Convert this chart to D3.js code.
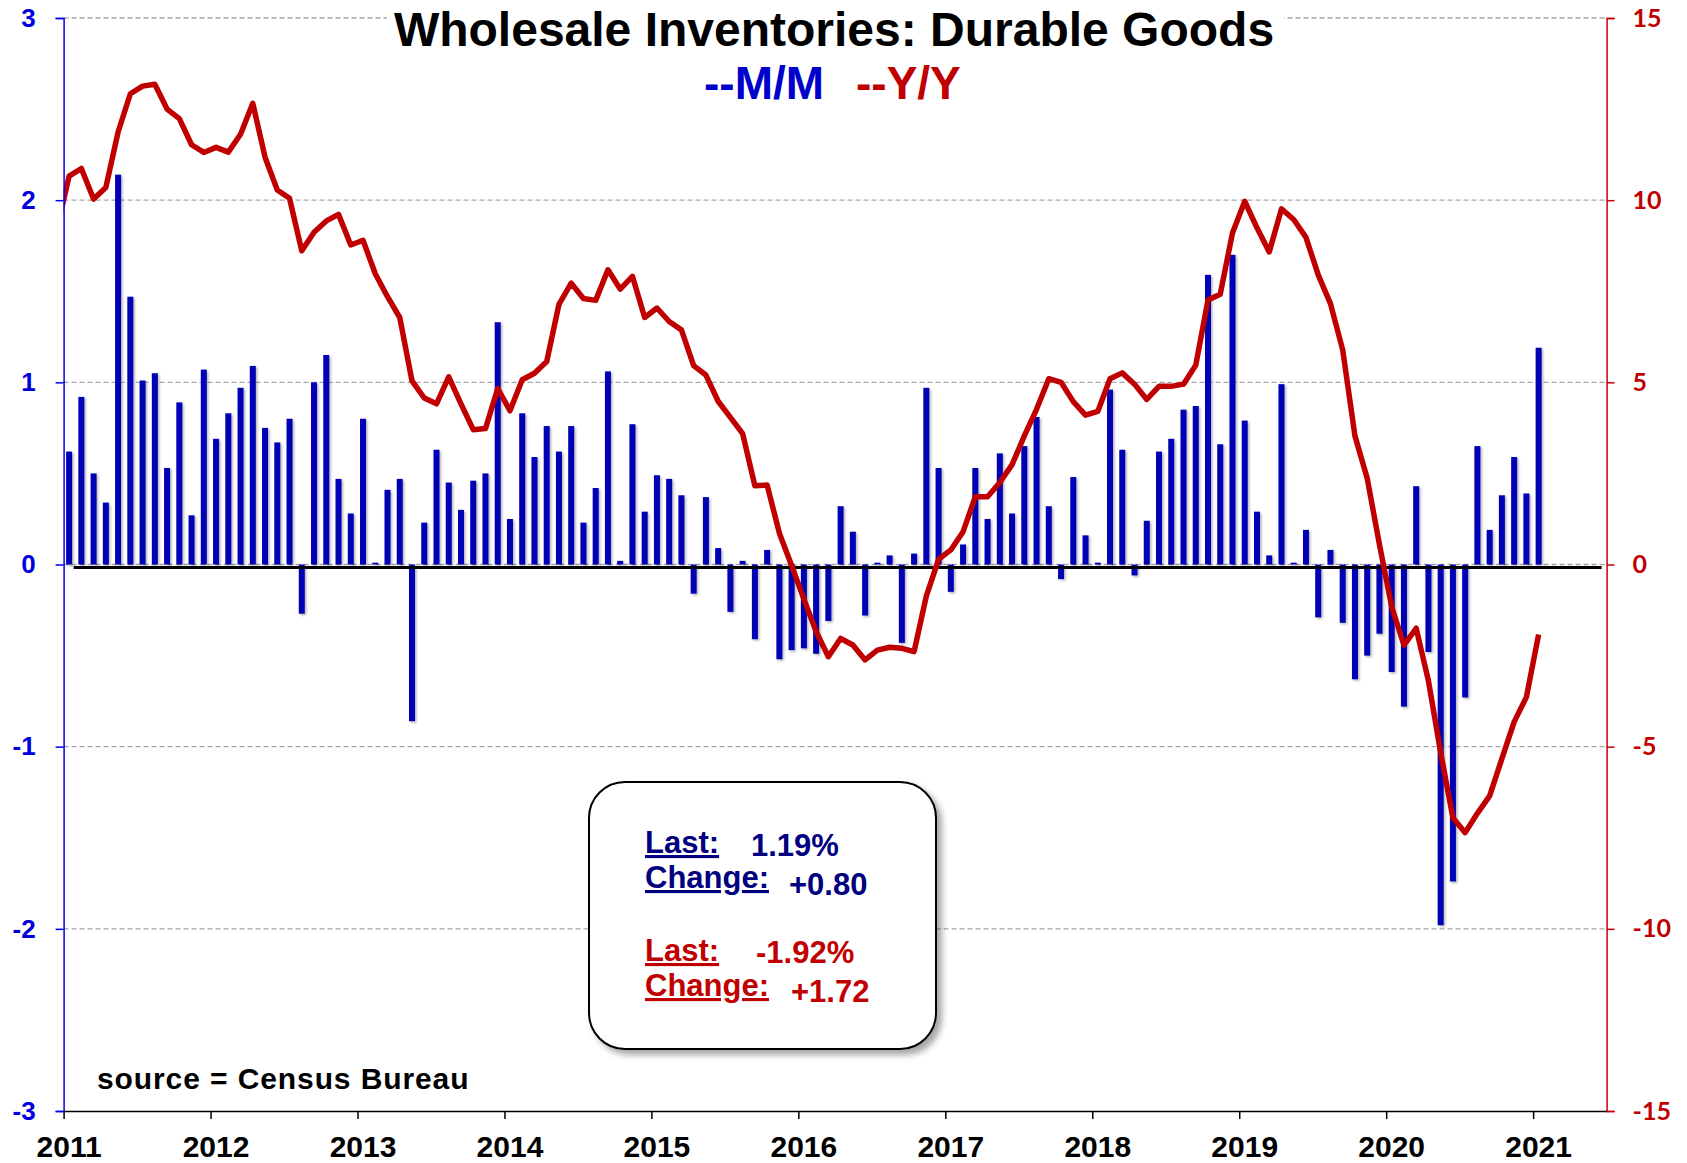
<!DOCTYPE html>
<html>
<head>
<meta charset="utf-8">
<script src="https://cdn.jsdelivr.net/npm/d3@7"></script>
<style>
   body { margin: 0; background: #fff; }
   text { font-family: Arial, "Liberation Sans", sans-serif; font-weight: bold; }
   .title { font-size: 48px; fill: #000; }
   .legendText { font-size: 46px; }
   .leftAxis text { font-size: 26px; fill: #0000dd; }
   .rightAxis text { font-family: Lato, "Open Sans", sans-serif; font-size: 25px; fill: #c00000; }
   .xAxis text { font-size: 30px; fill: #000; }
   .source { font-size: 30px; fill: #000; letter-spacing: 0.9px; }
   .boxText { font-size: 31px; }
</style>
</head>
<body>
<div id="chart"></div>
<script>
const width = 1687;
const height = 1163;

const margin = {
   top: 18,
   right: 80.4,
   bottom: 52,
   left: 63.6
};

// tick labels
const years = [2011, 2012, 2013, 2014, 2015, 2016, 2017, 2018, 2019, 2020, 2021];
const leftTicks = [-3, -2, -1, 0, 1, 2, 3];
const rightTicks = [-15, -10, -5, 0, 5, 10, 15];

// M/M % change, Jan 2011 .. Jan 2021 (bars, left axis)
const mm2011 = [0.62, 0.92, 0.50, 0.34, 2.14, 1.47, 1.01, 1.05, 0.53, 0.89, 0.27, 1.07];
const mm2012 = [0.69, 0.83, 0.97, 1.09, 0.75, 0.67, 0.80, -0.27, 1.00, 1.15, 0.47, 0.28];
const mm2013 = [0.80, 0.01, 0.41, 0.47, -0.86, 0.23, 0.63, 0.45, 0.30, 0.46, 0.50, 1.33];
const mm2014 = [0.25, 0.83, 0.59, 0.76, 0.62, 0.76, 0.23, 0.42, 1.06, 0.02, 0.77, 0.29];
const mm2015 = [0.49, 0.47, 0.38, -0.16, 0.37, 0.09, -0.26, 0.02, -0.41, 0.08, -0.52, -0.47];
const mm2016 = [-0.46, -0.49, -0.31, 0.32, 0.18, -0.28, 0.01, 0.05, -0.43, 0.06, 0.97, 0.53];
const mm2017 = [-0.15, 0.11, 0.53, 0.25, 0.61, 0.28, 0.65, 0.81, 0.32, -0.08, 0.48, 0.16];
const mm2018 = [0.01, 0.96, 0.63, -0.06, 0.24, 0.62, 0.69, 0.85, 0.87, 1.59, 0.66, 1.70];
const mm2019 = [0.79, 0.29, 0.05, 0.99, 0.01, 0.19, -0.29, 0.08, -0.32, -0.63, -0.50, -0.38];
const mm2020 = [-0.59, -0.78, 0.43, -0.48, -1.98, -1.74, -0.73, 0.65, 0.19, 0.38, 0.59, 0.39];
const mm2021 = [1.19];

// Y/Y % change, Dec 2010 .. Jan 2021 (line, right axis)
const yy2010 = [9.2];
const yy2011 = [10.66, 10.87, 10.03, 10.35, 11.87, 12.92, 13.13, 13.18, 12.50, 12.24, 11.52, 11.31];
const yy2012 = [11.45, 11.32, 11.81, 12.66, 11.18, 10.28, 10.05, 8.61, 9.12, 9.43, 9.61, 8.77];
const yy2013 = [8.90, 7.98, 7.35, 6.78, 5.04, 4.57, 4.41, 5.15, 4.41, 3.70, 3.73, 4.83];
const yy2014 = [4.22, 5.07, 5.25, 5.57, 7.14, 7.72, 7.30, 7.25, 8.09, 7.56, 7.91, 6.78];
const yy2015 = [7.04, 6.67, 6.44, 5.46, 5.20, 4.48, 4.04, 3.59, 2.16, 2.18, 0.86, -0.03];
const yy2016 = [-0.95, -1.84, -2.53, -2.03, -2.21, -2.62, -2.35, -2.27, -2.30, -2.39, -0.87, 0.14];
const yy2017 = [0.40, 0.90, 1.86, 1.86, 2.25, 2.74, 3.53, 4.26, 5.10, 5.00, 4.47, 4.10];
const yy2018 = [4.20, 5.10, 5.26, 4.95, 4.53, 4.89, 4.89, 4.95, 5.47, 7.26, 7.42, 9.10];
const yy2019 = [9.97, 9.24, 8.58, 9.76, 9.47, 8.98, 7.95, 7.16, 5.89, 3.53, 2.37, 0.55];
const yy2020 = [-1.16, -2.21, -1.75, -3.19, -5.16, -6.95, -7.36, -6.83, -6.35, -5.33, -4.32, -3.64];
const yy2021 = [-1.92];

const mmValues = [].concat(mm2011, mm2012, mm2013, mm2014, mm2015, mm2016, mm2017, mm2018, mm2019, mm2020, mm2021);
const yyValues = [].concat(yy2010, yy2011, yy2012, yy2013, yy2014, yy2015, yy2016, yy2017, yy2018, yy2019, yy2020, yy2021);

const barData = mmValues.map((v, i) => ({t: 2011 + (i + 0.45) / 12, value: v}));
const lineData = yyValues.map((v, i) => ({t: 2011 + (i - 1 + 0.45) / 12, value: v}));

const blue = "#0000b4";
const red = "#c00000";

const svg = d3.select("#chart").append("svg")
   .attr("width", width)
   .attr("height", height);

const defs = svg.append("defs");
defs.append("clipPath").attr("id", "plotClip")
   .append("rect")
   .attr("x", margin.left).attr("y", margin.top)
   .attr("width", width - margin.left - margin.right)
   .attr("height", height - margin.top - margin.bottom);
defs.append("filter").attr("id", "shadow")
   .attr("x", "-20%").attr("y", "-20%").attr("width", "150%").attr("height", "150%")
   .append("feDropShadow")
   .attr("dx", 1.5).attr("dy", 1.5).attr("stdDeviation", 1)
   .attr("flood-color", "#000").attr("flood-opacity", 0.3);
defs.append("filter").attr("id", "boxShadow")
   .attr("x", "-10%").attr("y", "-10%").attr("width", "130%").attr("height", "130%")
   .append("feDropShadow")
   .attr("dx", 5).attr("dy", 5).attr("stdDeviation", 3)
   .attr("flood-color", "#000").attr("flood-opacity", 0.35);

// scales
const x = d3.scaleLinear()
   .domain([2011, 2021.5])
   .range([margin.left, width - margin.right]);

const yL = d3.scaleLinear()
   .domain([-3, 3])
   .range([height - margin.bottom, margin.top]);

const yR = d3.scaleLinear()
   .domain([-15, 15])
   .range([height - margin.bottom, margin.top]);

// gridlines
svg.append("g")
   .selectAll("line")
   .data(leftTicks.filter(d => d > -3))
   .enter()
   .append("line")
   .attr("x1", margin.left).attr("x2", width - margin.right)
   .attr("y1", d => yL(d)).attr("y2", d => yL(d))
   .style("stroke", "#a6a6a6")
   .style("stroke-width", 1.3)
   .style("stroke-dasharray", "5,3");

// bars
const barWidth = 6;
svg.append("g")
   .attr("filter", "url(#shadow)")
   .selectAll("rect.bar")
   .data(barData)
   .enter()
   .append("rect")
   .attr("class", "bar")
   .attr("x", d => x(d.t) - barWidth / 2)
   .attr("y", d => yL(Math.max(0, d.value)))
   .attr("width", barWidth)
   .attr("height", d => Math.abs(yL(d.value) - yL(0)))
   .style("fill", blue);

// zero line
svg.append("line")
   .attr("x1", margin.left + 10).attr("x2", width - margin.right - 5)
   .attr("y1", yL(0) + 3).attr("y2", yL(0) + 3)
   .style("stroke", "#000")
   .style("stroke-width", 3);

// Y/Y line
const line = d3.line()
   .x(d => x(d.t))
   .y(d => yR(d.value));

svg.append("path")
   .datum(lineData)
   .attr("clip-path", "url(#plotClip)")
   .attr("d", line)
   .style("fill", "none")
   .style("stroke", red)
   .style("stroke-width", 5.5)
   .style("stroke-linejoin", "round");

// axes
const leftAxis = svg.append("g")
   .attr("class", "leftAxis")
   .attr("transform", `translate(${margin.left},0)`)
   .call(d3.axisLeft(yL).tickValues(leftTicks).tickFormat(d => String(d)).tickSize(8).tickPadding(20));
leftAxis.selectAll("path, line").style("stroke", "#0000ee").style("stroke-width", 1.5);

const rightAxis = svg.append("g")
   .attr("class", "rightAxis")
   .attr("transform", `translate(${width - margin.right},0)`)
   .call(d3.axisRight(yR).tickValues(rightTicks).tickFormat(d => String(d)).tickSize(8).tickPadding(18));
rightAxis.selectAll("path, line").style("stroke", "#cc0000").style("stroke-width", 1.5);

const xAxis = svg.append("g")
   .attr("class", "xAxis")
   .attr("transform", `translate(0,${height - margin.bottom})`)
   .call(d3.axisBottom(x).tickValues(years).tickFormat(d => String(d)).tickSize(8).tickPadding(17).tickSizeOuter(0));
xAxis.selectAll("path, line").style("stroke", "#000").style("stroke-width", 1.5);
xAxis.selectAll("text").attr("dx", 5);
svg.selectAll(".domain").style("fill", "none");

// title
svg.append("rect")
   .attr("x", 387).attr("y", 0)
   .attr("width", 897).attr("height", 56)
   .style("fill", "#fff");
svg.append("text")
   .attr("class", "title")
   .attr("x", 834)
   .attr("y", 46)
   .style("text-anchor", "middle")
   .text("Wholesale Inventories: Durable Goods");
svg.append("text")
   .attr("class", "legendText")
   .attr("x", 704).attr("y", 99)
   .style("fill", "#0000cc")
   .text("--M/M");
svg.append("text")
   .attr("class", "legendText")
   .attr("x", 856).attr("y", 99)
   .style("fill", red)
   .text("--Y/Y");

// source
svg.append("text")
   .attr("class", "source")
   .attr("x", 97)
   .attr("y", 1089)
   .text("source = Census Bureau");

// last / change box
const lastMM = mmValues[mmValues.length - 1];
const chgMM = lastMM - mmValues[mmValues.length - 2];
const lastYY = yyValues[yyValues.length - 1];
const chgYY = lastYY - yyValues[yyValues.length - 2];
const fmtChg = d3.format("+.2f");

svg.append("rect")
   .attr("x", 589).attr("y", 782)
   .attr("width", 347).attr("height", 267)
   .attr("rx", 36).attr("ry", 36)
   .attr("filter", "url(#boxShadow)")
   .style("fill", "#fff")
   .style("stroke", "#000")
   .style("stroke-width", 2);

const boxRows = [
   {label: "Last:", value: lastMM.toFixed(2) + "%", color: "#000080", y: 853, y2: 856, vx: 751},
   {label: "Change:", value: fmtChg(chgMM), color: "#000080", y: 888, y2: 895, vx: 789},
   {label: "Last:", value: lastYY.toFixed(2) + "%", color: red, y: 961, y2: 963, vx: 756},
   {label: "Change:", value: fmtChg(chgYY), color: red, y: 996, y2: 1002, vx: 791}
];
boxRows.forEach(r => {
   svg.append("text")
      .attr("class", "boxText")
      .attr("x", 645).attr("y", r.y)
      .style("fill", r.color)
      .style("text-decoration", "underline")
      .text(r.label);
   svg.append("text")
      .attr("class", "boxText")
      .attr("x", r.vx).attr("y", r.y2)
      .style("fill", r.color)
      .text(r.value.replace("\u2212", "-"));
});
</script>
</body>
</html>
